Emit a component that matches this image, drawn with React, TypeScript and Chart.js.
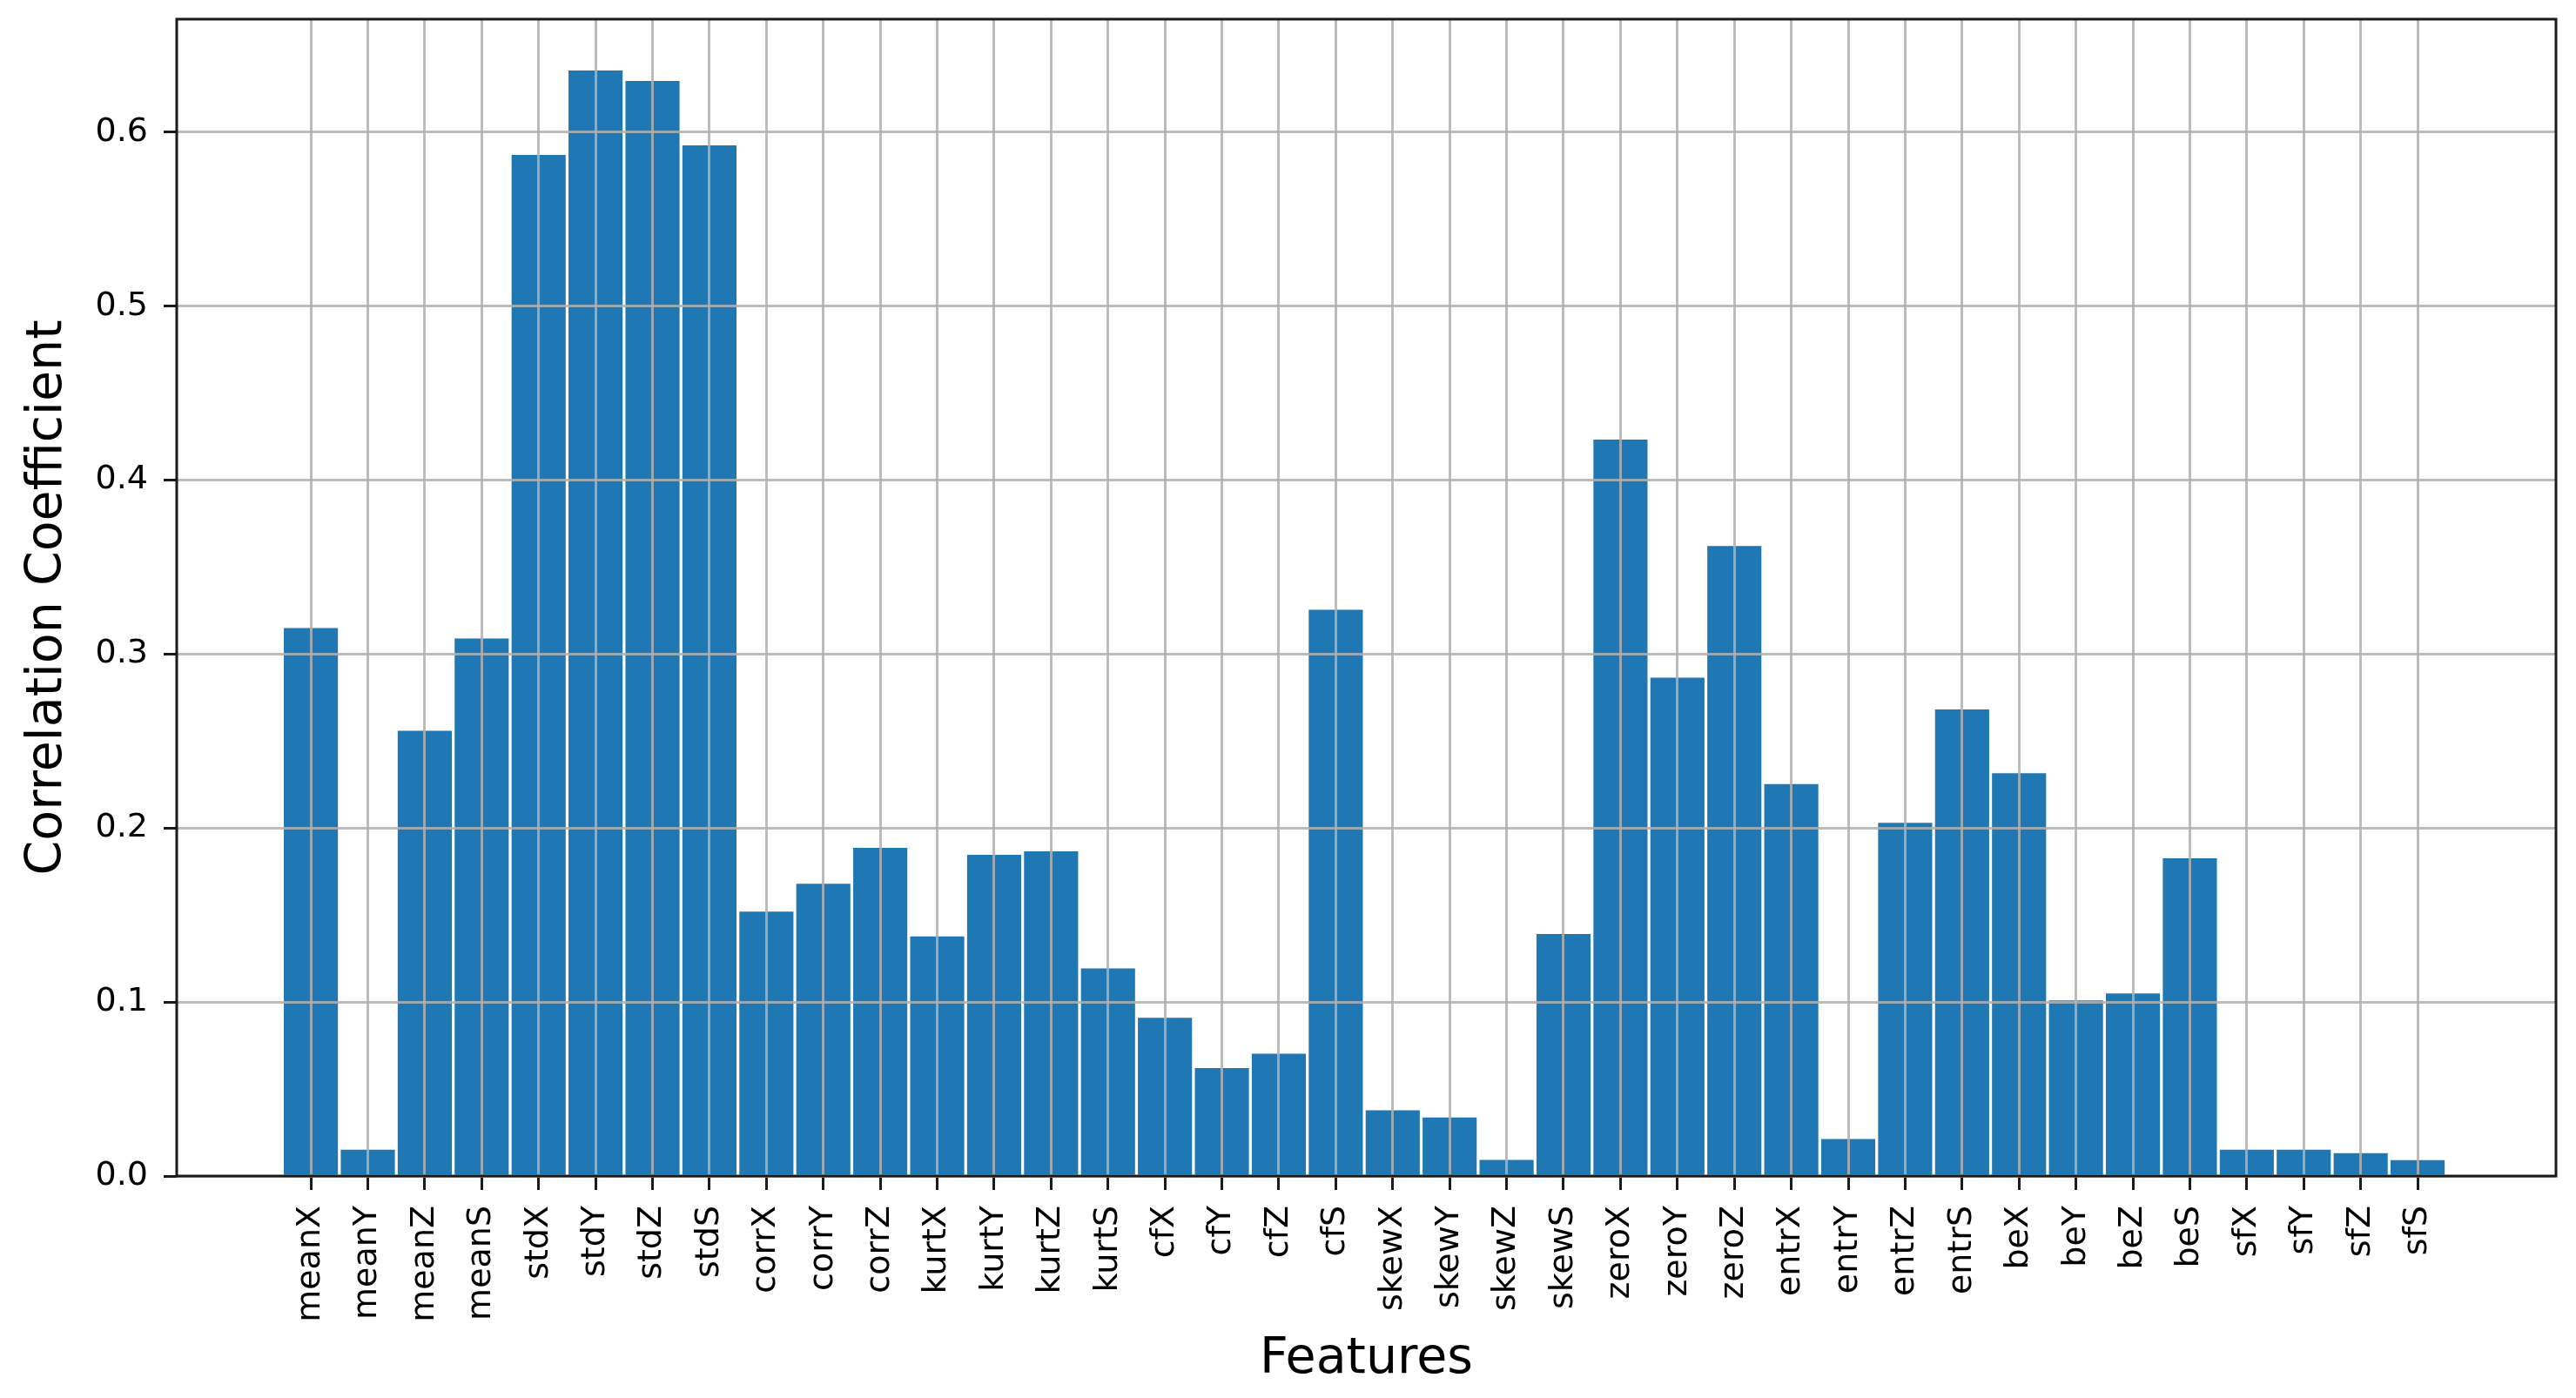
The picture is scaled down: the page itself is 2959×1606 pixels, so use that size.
import { useEffect, useRef } from 'react';
import { Chart, registerables } from 'chart.js';

Chart.register(...registerables);

const categories = [
  'meanX', 'meanY', 'meanZ', 'meanS',
  'stdX', 'stdY', 'stdZ', 'stdS',
  'corrX', 'corrY', 'corrZ',
  'kurtX', 'kurtY', 'kurtZ', 'kurtS',
  'cfX', 'cfY', 'cfZ', 'cfS',
  'skewX', 'skewY', 'skewZ', 'skewS',
  'zeroX', 'zeroY', 'zeroZ',
  'entrX', 'entrY', 'entrZ', 'entrS',
  'beX', 'beY', 'beZ', 'beS',
  'sfX', 'sfY', 'sfZ', 'sfS',
];

const values = [
  0.315, 0.0151, 0.256, 0.309,
  0.587, 0.6355, 0.6295, 0.5925,
  0.152, 0.168, 0.1887,
  0.1377, 0.1846, 0.1866, 0.1194,
  0.0909, 0.0621, 0.0703, 0.3255,
  0.0378, 0.0336, 0.0093, 0.1391,
  0.4233, 0.2865, 0.3621,
  0.2253, 0.0213, 0.203, 0.2682,
  0.2316, 0.1009, 0.105, 0.1826,
  0.0151, 0.0151, 0.0131, 0.0091,
];

const yTicks = [0, 0.1, 0.2, 0.3, 0.4, 0.5, 0.6];
const xLimits = [-2.356, 39.43];
const yLimits = [0, 0.665];

const FONT = '"DejaVu Sans", sans-serif';
const GRID = 'rgba(176,176,176,0.85)';
const INK = '#1a1a1a';

export default function App() {
  const ref = useRef<HTMLCanvasElement>(null);

  useEffect(() => {
    const framePlugin = {
      id: 'frame',
      afterDraw(chart: any) {
        const { ctx, chartArea: a } = chart;
        ctx.save();
        ctx.strokeStyle = INK;
        ctx.lineWidth = 3;
        ctx.strokeRect(a.left, a.top, a.right - a.left, a.bottom - a.top);
        ctx.restore();
      },
    };

    const chart = new Chart(ref.current as HTMLCanvasElement, {
      type: 'bar',
      data: {
        datasets: [
          {
            data: values.map((v, i) => ({ x: i, y: v })),
            backgroundColor: '#1f77b4',
            borderWidth: 0,
            barPercentage: 0.95,
            categoryPercentage: 1,
          },
        ],
      },
      options: {
        animation: false,
        responsive: false,
        maintainAspectRatio: false,
        devicePixelRatio: 1,
        layout: { padding: { top: 22, right: 23, left: 0, bottom: 0 } },
        plugins: {
          legend: { display: false },
          tooltip: { enabled: false },
        },
        scales: {
          x: {
            type: 'linear',
            min: xLimits[0],
            max: xLimits[1],
            offset: false,
            grid: {
              offset: false,
              z: 1,
              color: GRID,
              lineWidth: 3,
              tickLength: 16,
              tickColor: INK,
              tickWidth: 3,
            },
            border: { display: false },
            ticks: {
              autoSkip: false,
              maxRotation: 90,
              minRotation: 90,
              padding: 18,
              color: '#000',
              font: { family: FONT, size: 38 },
              callback: (v: any) => categories[v as number] ?? '',
            },
            afterBuildTicks: (s: any) => {
              s.ticks = categories.map((_, i) => ({ value: i }));
            },
            afterFit: (s: any) => {
              s.height = 255;
              s.paddingLeft = 0;
              s.paddingRight = 0;
            },
            title: {
              display: true,
              text: 'Features',
              color: '#000',
              font: { family: FONT, size: 57, lineHeight: 1.2 },
              padding: { top: 0, bottom: 10 },
            },
          },
          y: {
            type: 'linear',
            min: yLimits[0],
            max: yLimits[1],
            grid: {
              z: 1,
              color: GRID,
              lineWidth: 3,
              tickLength: 15,
              tickColor: INK,
              tickWidth: 3,
            },
            border: { display: false },
            ticks: {
              padding: 18,
              color: '#000',
              font: { family: FONT, size: 38 },
              callback: (v: any) => Number(v).toFixed(1),
            },
            afterBuildTicks: (s: any) => {
              s.ticks = yTicks.map((v) => ({ value: v }));
            },
            afterFit: (s: any) => {
              s.width = 203;
              s.paddingTop = 0;
              s.paddingBottom = 0;
            },
            title: {
              display: true,
              text: 'Correlation Coefficient',
              color: '#000',
              font: { family: FONT, size: 57, lineHeight: 1.2 },
              padding: { top: 21, bottom: 0 },
            },
          },
        },
      },
      plugins: [framePlugin],
    } as any);

    return () => chart.destroy();
  }, []);

  return (
    <div style={{ position: 'fixed', left: 0, top: 0, width: 2959, height: 1606, background: '#fff' }}>
      <canvas ref={ref} width={2959} height={1606} style={{ display: 'block' }} />
    </div>
  );
}
